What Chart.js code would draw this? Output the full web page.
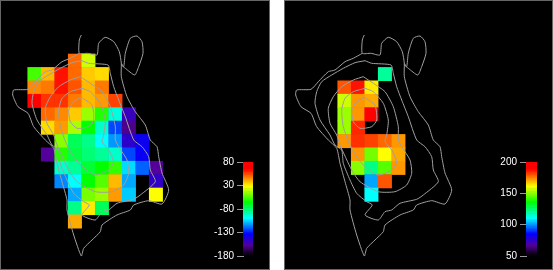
<!DOCTYPE html>
<html>
<head>
<meta charset="utf-8">
<script src="https://cdn.jsdelivr.net/npm/chart.js@4"></script>
<style>
body { margin: 0; background: white; }
#page { position: relative; width: 553px; height: 270px; overflow: hidden; }
.panel { position: absolute; top: 0; height: 270px; background: black; }
.panel::after { content: ''; position: absolute; inset: 0; border: 1px solid #666; pointer-events: none; }
.panel canvas { position: absolute; }
</style>
</head>
<body>
<div id="page">
  <div class="panel" id="leftPanel" style="left: 0; width: 270px"></div>
  <div class="panel" id="rightPanel" style="left: 284px; width: 269px"></div>
</div>
<script>
// grid values, one row per line, null = no cell
const leftValues = [
  [null, null, null, 40, 4, null, null, null, null, null],
  [-20, 25, 56, 40, 22, 19, null, null, null, null],
  [34, 37, 56, 44, 25, 37, null, null, null, null],
  [65, 50, 50, 37, 25, 31, 47, null, null, null],
  [null, 40, 34, 22, -5, -26, -70, -141, null, null],
  [null, 19, 31, -2, -32, -67, -108, -154, null, null],
  [null, null, -8, -47, -55, -76, -94, -136, -125, null],
  [null, -151, -26, -44, -52, -58, -67, -108, -123, null],
  [null, null, -67, -58, -41, -32, -23, -82, -103, -151],
  [null, null, -97, -76, -32, -17, 25, -91, null, -138],
  [null, null, null, -91, -11, -5, 31, -85, null, 12],
  [null, null, null, -55, 16, -47, null, null, null, null],
  [null, null, null, 28, null, null, null, null, null, null]
];
const rightValues = [
  [null, null, null, null, null, null, null],
  [null, null, null, null, null, 120, null],
  [null, null, 179, 186, 163, null, null],
  [null, null, 156, 172, 170, null, null],
  [null, null, 151, 172, 190, null, null],
  [null, null, 151, 184, null, null, null],
  [null, null, 172, 183, 181, 177, 172],
  [null, null, null, 172, 147, 161, 170],
  [null, null, null, 149, 122, 144, 172],
  [null, null, null, null, 101, 179, null],
  [null, null, null, null, 110, null, null]
];

const leftRange = [-180, 80];
const rightRange = [50, 200];
const leftTicks = [-180, -115, -50, 15, 80];
const leftTickLabels = ['-180', '-130', '-80', '30', '80'];
const rightTicks = [50, 100, 150, 200];
const rightTickLabels = ['50', '100', '150', '200'];

// outlines, same for both panels
const outerX = [81.3, 79.3, 79.3, 88, 97, 98.7, 105.3, 113.7, 119.3, 121.3, 121.3, 127, 135.3, 145.3, 150.3, 157, 158.7, 162, 168.7, 162, 148.7, 133.7, 130.3, 117, 102, 100.3, 92, 83.7, 81.3, 73.7, 67, 67, 62, 57, 53.7, 45.3, 33.7, 28, 18, 12.7, 13.7, 28, 35.3, 45.3, 52, 62, 70.3, 79.3];
const outerY = [35, 40, 53.3, 53.3, 55, 43.3, 37.3, 41.7, 51.7, 63.3, 76.7, 96.7, 111.7, 125, 140, 146.7, 156.7, 173, 190, 204, 200.7, 205, 210, 215, 225, 231.7, 240, 248.3, 256, 235, 210, 200, 181.7, 163.3, 148.3, 140, 126.7, 113.3, 106.7, 95, 90, 89.3, 81.7, 71.7, 70, 61.7, 58.3, 53.3];
const toeX = [121.3, 123.7, 125.3, 130.3, 137, 142, 143, 138.7, 134.7, 125.3, 121.3];
const toeY = [63.3, 66.7, 53.3, 38.3, 36, 41.7, 53.3, 66.7, 75, 68.3, 65];
const ring2X = [82, 72, 60.3, 48.7, 38.7, 33.7, 32, 37, 47, 52, 58.7, 60.3, 67, 73.7, 83.7, 89.3, 82, 95.3, 102, 108.7, 117, 133.7, 140.3, 155.3, 150.3, 148.7, 142, 133.7, 125.3, 118.7, 113.7, 110.3, 108, 88.7, 82];
const ring2Y = [60.7, 62.7, 68.3, 75, 81.7, 91.7, 103.3, 120, 135, 145, 150, 163.3, 180, 193.3, 201.7, 205, 215, 220, 211.7, 210, 203.3, 199.3, 195, 181.7, 170, 156.7, 146.7, 140, 116.7, 100, 86.7, 73.3, 65, 63.3, 60.7];
const ring3X = [80.3, 70.3, 58.7, 50.3, 45.3, 47, 53.7, 57, 68.7, 77, 95.3, 112, 123.7, 128.7, 127, 118.7, 115.3, 115.3, 110.3, 102, 90.3, 80.3];
const ring3Y = [76.7, 80, 86.7, 96.7, 108.3, 123.3, 135, 145, 170, 181.7, 191.7, 191.7, 185, 173.3, 160, 146.7, 140, 126.7, 106.7, 91.7, 83.3, 76.7];
const ring4X = [82, 70.3, 62, 58.7, 60.3, 67, 73.7, 82, 95.3, 108.7, 113.7, 108.7, 102, 103.7, 105.3, 100.3, 90.3, 82];
const ring4Y = [88.3, 91.7, 98.3, 110, 126.7, 145, 156.7, 166.7, 175, 170, 161.7, 150, 141.7, 135, 120, 103.3, 91.7, 88.3];
const ring5X = [81.3, 73.7, 68.7, 70.3, 77, 88.7, 93.7, 92, 81.3];
const ring5Y = [97.3, 101.7, 110, 121.7, 128.3, 126.7, 120, 105, 97.3];

const outlines = [[outerX, outerY], [toeX, toeY], [ring2X, ring2Y], [ring3X, ring3Y], [ring4X, ring4Y], [ring5X, ring5Y]];

const colorStops = [
  [0, [0, 0, 0]],
  [0.11, [85, 0, 153]],
  [0.23, [0, 0, 255]],
  [0.40, [0, 255, 255]],
  [0.57, [0, 255, 0]],
  [0.74, [255, 255, 0]],
  [0.92, [255, 0, 0]],
  [1, [255, 0, 0]]
];

function colorAt(t)
{
    t = Math.min(1, Math.max(0, t));
    for (let i = 1; i < colorStops.length; i++)
    {
        if (t <= colorStops[i][0])
        {
            const a = colorStops[i - 1];
            const b = colorStops[i];
            const f = (t - a[0]) / (b[0] - a[0]);
            const rgb = a[1].map((c, j) => Math.round(c + (b[1][j] - c) * f));
            return 'rgb(' + rgb.join(',') + ')';
        }
    }
    return 'rgb(255,0,0)';
}

function addCanvas(panel, left, top, width, height)
{
    const canvas = document.createElement('canvas');
    canvas.width = width;
    canvas.height = height;
    canvas.style.left = left + 'px';
    canvas.style.top = top + 'px';
    canvas.style.width = width + 'px';
    canvas.style.height = height + 'px';
    panel.appendChild(canvas);
    return canvas;
}

function drawMap(panel, left, values, range)
{
    const points = [];
    const colors = [];
    values.forEach((row, r) => row.forEach((v, c) => {
        if (v === null) return;
        points.push({x: c, y: r});
        colors.push(colorAt((v - range[0]) / (range[1] - range[0])));
    }));

    const datasets = outlines.map(o => ({
        data: o[0].map((x, i) => ({x: x, y: o[1][i]})),
        xAxisID: 'xMap',
        yAxisID: 'yMap',
        showLine: true,
        borderColor: '#a0a0a0',
        borderWidth: 1,
        tension: 0.2,
        pointRadius: 0,
        order: 1
    }));
    // radius a bit over half the cell so no seams show between cells
    datasets.push({
        data: points,
        xAxisID: 'xCell',
        yAxisID: 'yCell',
        pointStyle: 'rect',
        pointRadius: 9.9,
        pointBorderWidth: 0,
        backgroundColor: colors,
        order: 2
    });

    new Chart(addCanvas(panel, left, 0, 270, 270), {
        type: 'scatter',
        data: {datasets: datasets},
        options: {
            responsive: false,
            animation: false,
            layout: {autoPadding: false, padding: 0},
            plugins: {legend: {display: false}, tooltip: {enabled: false}},
            scales: {
                xMap: {type: 'linear', display: false, min: 0, max: 270},
                yMap: {type: 'linear', display: false, min: 0, max: 270, reverse: true},
                xCell: {type: 'linear', display: false, min: -2.55, max: 17.45},
                yCell: {type: 'linear', display: false, min: -4.53, max: 15.62, reverse: true}
            }
        }
    });
}

function drawColorbar(panel, left, width, barWidth, range, ticks, tickLabels)
{
    const bands = 64;
    const step = (range[1] - range[0]) / bands;
    const datasets = [];
    for (let i = 0; i < bands; i++)
    {
        datasets.push({
            data: [[range[0] + i * step, range[0] + (i + 1) * step]],
            backgroundColor: colorAt((i + 0.5) / bands),
            grouped: false,
            barPercentage: 1,
            categoryPercentage: 1
        });
    }

    new Chart(addCanvas(panel, left, 150, width, 120), {
        type: 'bar',
        data: {labels: [''], datasets: datasets},
        options: {
            responsive: false,
            animation: false,
            layout: {padding: {top: 12, bottom: 14}},
            plugins: {legend: {display: false}, tooltip: {enabled: false}},
            scales: {
                x: {display: false},
                y: {
                    min: range[0],
                    max: range[1],
                    afterFit: axis => { axis.width = width - barWidth; },
                    afterBuildTicks: axis => { axis.ticks = ticks.map(v => ({value: v})); },
                    border: {color: '#999', width: 1},
                    grid: {drawOnChartArea: false, drawTicks: true, tickLength: 6, tickColor: '#999'},
                    ticks: {
                        color: 'white',
                        padding: 3,
                        font: {family: '"Liberation Sans"', size: 10},
                        autoSkip: false,
                        callback: (v, i) => tickLabels[i]
                    }
                }
            }
        }
    });
}

const leftPanel = document.getElementById('leftPanel');
const rightPanel = document.getElementById('rightPanel');

drawMap(leftPanel, 0, leftValues, leftRange);
drawMap(rightPanel, -1, rightValues, rightRange);
drawColorbar(leftPanel, 205, 48, 10, leftRange, leftTicks, leftTickLabels);
drawColorbar(rightPanel, 204, 49, 11, rightRange, rightTicks, rightTickLabels);
</script>
</body>
</html>
